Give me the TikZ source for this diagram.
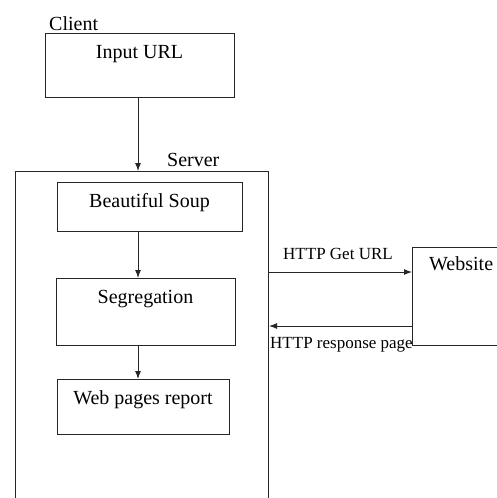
\documentclass[tikz,border=0pt]{standalone}
\usepackage{fontspec}
\setmainfont{Liberation Serif}
\usetikzlibrary{arrows.meta}
\begin{document}
\begin{tikzpicture}[x=1pt,y=-1pt,
  box/.style={draw=black!85, line width=1pt, rectangle, anchor=north west, inner sep=0pt},
  txt/.style={anchor=base, inner sep=0pt, font=\fontsize{20}{24}\selectfont},
  lbl/.style={anchor=base west, inner sep=0pt, font=\fontsize{17}{20}\selectfont},
  arr/.style={draw=black!85, line width=1pt, -{Latex[length=8pt,width=6pt]}}]
\useasboundingbox (0,0) rectangle (497,498);
\clip (0,0) rectangle (497,498);
% boxes
\node[box, minimum width=189pt, minimum height=64pt] (input) at (45,33) {};
\node[box, minimum width=253pt, minimum height=360pt] (server) at (15,171) {};
\node[box, minimum width=185pt, minimum height=49pt] (soup) at (57,182) {};
\node[box, minimum width=179pt, minimum height=67pt] (seg) at (56,278) {};
\node[box, minimum width=172pt, minimum height=55pt] (report) at (57,379) {};
\node[box, minimum width=120pt, minimum height=98pt] (website) at (412,247) {};
% texts
\node[txt, anchor=base west] (clientt) at (49,30) {Client};
\node[txt, anchor=base west] (servert) at (167,166) {Server};
\node[txt] (inputt) at (139.5,58) {Input URL};
\node[txt] (soupt) at (149.5,207) {Beautiful Soup};
\node[txt] (segt) at (145.5,303) {Segregation};
\node[txt] (reportt) at (143,404) {Web pages report};
\node[txt, anchor=base west] (websitet) at (429,270) {Website};
\node[lbl] (getl) at (283,259) {HTTP Get URL};
\node[lbl] (respl) at (270,348) {HTTP response page};
% connectors
\draw[arr] (input.south -| 138,0) -- (server.north -| 138,0);
\draw[arr] (soup.south -| 138,0) -- (seg.north -| 138,0);
\draw[arr] (seg.south -| 138,0) -- (report.north -| 138,0);
\draw[arr] (server.east |- 0,272) -- (website.west |- 0,272);
\draw[arr] (website.west |- 0,326) -- (server.east |- 0,326);
\end{tikzpicture}
\end{document}
